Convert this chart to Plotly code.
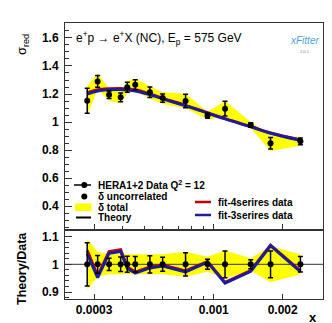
import plotly.graph_objects as go

# data (HERA1+2, e+p NC, Ep = 575 GeV, Q2 = 12)
x_vals = [2.80e-4, 3.11e-4, 3.49e-4, 3.92e-4, 4.19e-4, 4.54e-4, 5.26e-4,
          5.98e-4, 7.53e-4, 9.39e-4, 1.12e-3, 1.45e-3, 1.77e-3, 2.39e-3]
sigma_red = [1.152, 1.290, 1.195, 1.176, 1.248, 1.266, 1.212,
             1.171, 1.150, 1.045, 1.095, 0.979, 0.848, 0.862]
stat_rel = [0.078, 0.032, 0.022, 0.026, 0.029, 0.028, 0.031,
            0.025, 0.042, 0.018, 0.048, 0.016, 0.048, 0.028]
tot_rel = [0.090, 0.045, 0.036, 0.036, 0.035, 0.035, 0.036,
           0.036, 0.045, 0.027, 0.050, 0.022, 0.065, 0.036]
theory_4s = [1.208, 1.230, 1.238, 1.240, 1.237, 1.230, 1.201,
             1.169, 1.119, 1.066, 1.024, 0.968, 0.922, 0.872]
theory_3s = [1.200, 1.222, 1.230, 1.232, 1.229, 1.222, 1.196,
             1.166, 1.116, 1.064, 1.022, 0.966, 0.920, 0.870]
ratio_4s = [1.050, 0.958, 1.046, 1.053, 0.990, 0.972, 0.990,
            0.997, 0.976, 1.010, 0.935, 0.977, 1.069, 0.976]
ratio_3s = [1.038, 0.952, 1.040, 1.046, 0.986, 0.968, 0.987,
            0.994, 0.973, 1.008, 0.932, 0.975, 1.067, 0.974]

x_range = [2.24e-4, 3.0e-3]
x_major = [3e-4, 1e-3, 2e-3]
x_major_text = ['0.0003', '0.001', '0.002']
x_minor = [4e-4, 5e-4, 6e-4, 7e-4, 8e-4, 9e-4, 3e-3]

RED = '#c00000'
BLUE = '#1c1c9c'
YELLOW = '#ffff00'
FONT = 'Liberation Sans, Arial, sans-serif'

W, H = 332, 323
ML, MR, MT, MB = 57, 17, 15, 32
PW, PH = W - ML - MR, H - MT - MB


def px(x):
    return (x - ML) / PW


def py(y):
    return (H - MB - y) / PH


stat_abs = [s * r for s, r in zip(sigma_red, stat_rel)]
band_lo = [s * (1 - r) for s, r in zip(sigma_red, tot_rel)]
band_hi = [s * (1 + r) for s, r in zip(sigma_red, tot_rel)]
ones = [1.0] * len(x_vals)

fig = go.Figure()

# top panel
fig.add_trace(go.Scatter(x=x_vals, y=band_lo, mode='lines', line=dict(width=0),
                         hoverinfo='skip', xaxis='x', yaxis='y'))
fig.add_trace(go.Scatter(x=x_vals, y=band_hi, mode='lines', line=dict(width=0),
                         fill='tonexty', fillcolor=YELLOW, xaxis='x', yaxis='y'))
fig.add_trace(go.Scatter(x=x_vals, y=theory_4s, mode='lines', line_shape='spline',
                         line=dict(color=RED, width=3), xaxis='x', yaxis='y'))
fig.add_trace(go.Scatter(x=x_vals, y=theory_3s, mode='lines', line_shape='spline',
                         line=dict(color=BLUE, width=3), xaxis='x', yaxis='y'))
fig.add_trace(go.Scatter(x=x_vals, y=sigma_red, mode='markers',
                         marker=dict(color='black', size=6),
                         error_y=dict(type='data', array=stat_abs, color='black',
                                      thickness=1.5, width=2.5),
                         xaxis='x', yaxis='y'))

# ratio panel
fig.add_trace(go.Scatter(x=x_vals, y=[1 - r for r in tot_rel], mode='lines',
                         line=dict(width=0), xaxis='x2', yaxis='y2'))
fig.add_trace(go.Scatter(x=x_vals, y=[1 + r for r in tot_rel], mode='lines',
                         line=dict(width=0), fill='tonexty', fillcolor=YELLOW,
                         xaxis='x2', yaxis='y2'))
fig.add_trace(go.Scatter(x=x_range, y=[1, 1], mode='lines',
                         line=dict(color='#333', width=1), xaxis='x2', yaxis='y2'))
fig.add_trace(go.Scatter(x=x_vals, y=ratio_4s, mode='lines',
                         line=dict(color=RED, width=3), xaxis='x2', yaxis='y2'))
fig.add_trace(go.Scatter(x=x_vals, y=ratio_3s, mode='lines',
                         line=dict(color=BLUE, width=3), xaxis='x2', yaxis='y2'))
fig.add_trace(go.Scatter(x=x_vals, y=ones, mode='markers',
                         marker=dict(color='black', size=6),
                         error_y=dict(type='data', array=stat_rel, color='black',
                                      thickness=1.5, width=2.5),
                         xaxis='x2', yaxis='y2'))

axis_common = dict(showline=True, mirror=True, linecolor='#333', linewidth=1,
                   showgrid=False, zeroline=False, ticks='inside',
                   tickcolor='#333', tickfont=dict(family=FONT, size=12, color='black'))

top_bottom = py(221)
low_top = py(223)

fig.update_layout(
    width=W, height=H,
    margin=dict(l=ML, r=MR, t=MT, b=MB),
    paper_bgcolor='white', plot_bgcolor='white',
    showlegend=False,
    xaxis=dict(axis_common, type='log', range=[-3.6498, -2.5229], anchor='y',
               tickvals=x_major, showticklabels=False, ticklen=5,
               minor=dict(tickvals=x_minor, ticklen=3, ticks='inside', tickcolor='#333')),
    yaxis=dict(axis_common, domain=[top_bottom, 1], range=[0.236, 1.707],
               dtick=0.2, tick0=0, ticklen=7, ticklabelstandoff=3,
               tickfont=dict(family=FONT, size=12, color='black', weight='bold'),
               minor=dict(dtick=0.05, tick0=0, ticklen=4, ticks='inside', tickcolor='#333')),
    xaxis2=dict(axis_common, type='log', range=[-3.6498, -2.5229], anchor='y2',
                matches='x', tickvals=x_major, ticktext=x_major_text, ticklen=5,
                tickfont=dict(family=FONT, size=12, color='black', weight='bold'),
                minor=dict(tickvals=x_minor, ticklen=3, ticks='inside', tickcolor='#333')),
    yaxis2=dict(axis_common, domain=[0, low_top], range=[0.875, 1.12],
                tickvals=[0.9, 1.0, 1.1], ticklen=7, ticklabelstandoff=3,
                tickfont=dict(family=FONT, size=12, color='black', weight='bold'),
                minor=dict(dtick=0.02, tick0=0, ticklen=4, ticks='inside', tickcolor='#333')),
)

ann = []
ann.append(dict(text='e<sup>+</sup>p \u2192 e<sup>+</sup>X (NC), E<sub>p</sub> = 575 GeV',
                x=px(66), y=py(30), xanchor='left', yanchor='middle',
                font=dict(family=FONT, size=12, color='black')))
ann.append(dict(text='\u03c3<sub>red</sub>', x=px(14), y=py(37), textangle=-90,
                xanchor='center', yanchor='middle',
                font=dict(family=FONT, size=13, color='black')))
ann.append(dict(text='<b>Theory/Data</b>', x=px(14), y=py(261), textangle=-90,
                xanchor='center', yanchor='middle',
                font=dict(family=FONT, size=12.5, color='black')))
ann.append(dict(text='<b>x</b>', x=px(305), y=py(309), xanchor='center', yanchor='middle',
                font=dict(family=FONT, size=13, color='black')))
ann.append(dict(text='<i>xFitter</i>', x=px(296), y=py(33), xanchor='center', yanchor='middle',
                font=dict(family=FONT, size=10, color='#4aa3df')))
ann.append(dict(text='2.0.1', x=px(297), y=py(43), xanchor='center', yanchor='middle',
                font=dict(family=FONT, size=4, color='#777')))

# legend (left)
leg_left = [('<b>HERA1+2 Data Q<sup>2</sup> = 12</b>', 177),
            ('<b>\u03b4 uncorrelated</b>', 188.5),
            ('<b>\u03b4 total</b>', 199),
            ('<b>Theory</b>', 209.5)]
for txt, yy in leg_left:
    ann.append(dict(text=txt, x=px(88), y=py(yy), xanchor='left', yanchor='middle',
                    font=dict(family=FONT, size=10, color='black')))
leg_right = [('<b>fit-4serires data</b>', 194), ('<b>fit-3serires data</b>', 207)]
for txt, yy in leg_right:
    ann.append(dict(text=txt, x=px(208), y=py(yy), xanchor='left', yanchor='middle',
                    font=dict(family=FONT, size=10, color='black')))
for a in ann:
    a.update(xref='paper', yref='paper', showarrow=False)
fig.update_layout(annotations=ann)

shapes = [
    dict(type='line', x0=px(66), x1=px(83), y0=py(177), y1=py(177),
         line=dict(color='black', width=1.5)),
    dict(type='circle', x0=px(73.3), x1=px(79.3), y0=py(180), y1=py(174),
         fillcolor='black', line=dict(color='black', width=0)),
    dict(type='circle', x0=px(73.3), x1=px(79.3), y0=py(191.5), y1=py(185.5),
         fillcolor='black', line=dict(color='black', width=0)),
    dict(type='rect', x0=px(67), x1=px(83.5), y0=py(203), y1=py(195.5),
         fillcolor=YELLOW, line=dict(width=0)),
    dict(type='line', x0=px(68), x1=px(83), y0=py(209.5), y1=py(209.5),
         line=dict(color='black', width=2)),
    dict(type='line', x0=px(187), x1=px(203), y0=py(194), y1=py(194),
         line=dict(color=RED, width=2.5)),
    dict(type='line', x0=px(187), x1=px(203), y0=py(207), y1=py(207),
         line=dict(color=BLUE, width=2.5)),
]
for s in shapes:
    s.update(xref='paper', yref='paper')
fig.update_layout(shapes=shapes)

fig.write_html("out.html")
